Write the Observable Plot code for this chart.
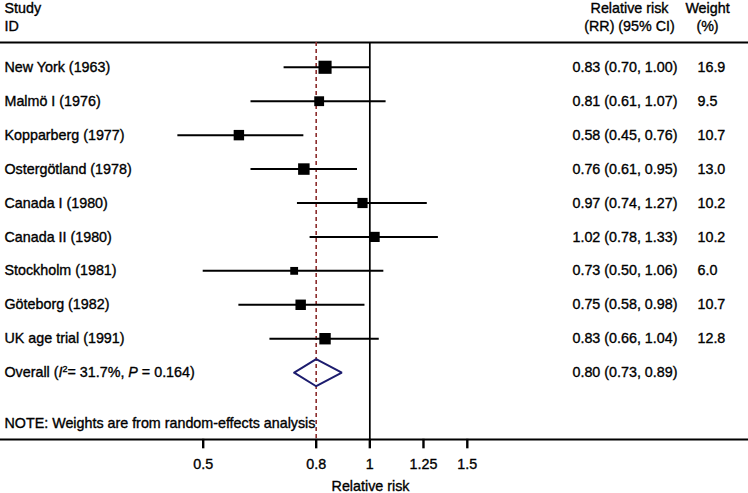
<!DOCTYPE html>
<html>
<head>
<meta charset="utf-8">
<script src="https://cdn.jsdelivr.net/npm/d3@7"></script>
<script src="https://cdn.jsdelivr.net/npm/@observablehq/plot@0.6"></script>
<style>
  html, body { margin: 0; padding: 0; background: #fff; }
  #chart svg { display: block; overflow: visible; }
  #chart svg text { stroke: #000; stroke-width: 0.35px; paint-order: fill; }
</style>
</head>
<body>
<div id="chart"></div>
<script>
// ---- data ----
const studies = ["New York (1963)", "Malmö I (1976)", "Kopparberg (1977)", "Ostergötland (1978)",
  "Canada I (1980)", "Canada II (1980)", "Stockholm (1981)", "Göteborg (1982)", "UK age trial (1991)"];
const rr     = [0.83, 0.81, 0.58, 0.76, 0.97, 1.02, 0.73, 0.75, 0.83];
const lower  = [0.70, 0.61, 0.45, 0.61, 0.74, 0.78, 0.50, 0.58, 0.66];
const upper  = [1.00, 1.07, 0.76, 0.95, 1.27, 1.33, 1.06, 0.98, 1.04];
const weight = [16.9, 9.5, 10.7, 13.0, 10.2, 10.2, 6.0, 10.7, 12.8];
const overallLabel = "Overall (I²= 31.7%, P = 0.164)";
const overallRR = 0.80, overallLower = 0.73, overallUpper = 0.89;
const noteText = "NOTE: Weights are from random-effects analysis";
const xTicks = [0.5, 0.8, 1, 1.25, 1.5];
const xTickLabels = ["0.5", "0.8", "1", "1.25", "1.5"];
const headerLeft = ["Study", "ID"];
const headerRR = ["Relative risk", "(RR) (95% CI)"];
const headerW = ["Weight", "(%)"];

// ---- derived table ----
const rows = studies.map((s, i) => ({
  study: s, row: i, rr: rr[i], lo: lower[i], hi: upper[i], w: weight[i],
  ci: `${rr[i].toFixed(2)} (${lower[i].toFixed(2)}, ${upper[i].toFixed(2)})`,
  wt: weight[i].toFixed(1)
}));
const overallRow = studies.length;
const overall = [{label: overallLabel, row: overallRow,
  ci: `${overallRR.toFixed(2)} (${overallLower.toFixed(2)}, ${overallUpper.toFixed(2)})`}];
const dh = 0.4;
const diamond = [
  {x: overallLower, y: overallRow}, {x: overallRR, y: overallRow - dh},
  {x: overallUpper, y: overallRow}, {x: overallRR, y: overallRow + dh},
  {x: overallLower, y: overallRow}
];
const yDomain = [-0.73, 10.97];
const headRows = [-1.72, -1.21];
const noteRow = overallRow + 1.5;
const tickLen = 0.26; // in row units
const tickMarks = xTicks.map(t => ({x: t, y1: yDomain[1] - 0.02, y2: yDomain[1] + tickLen}));
const tickText = new Map(xTicks.map((t, i) => [t, xTickLabels[i]]));

const font = "'Liberation Sans', Arial, Helvetica, sans-serif";
const fs = 14.3;
const colCI = 572, colWC = 707, colRRC = 629, colW = 697;

const chart = Plot.plot({
  width: 748, height: 493,
  marginLeft: 0, marginRight: 0, marginTop: 42, marginBottom: 54,
  style: {fontFamily: font, fontSize: fs + "px", color: "#000", background: "#fff", overflow: "visible"},
  x: {type: "log", domain: [0.5, 1.5], range: [202.7, 466.8]},
  y: {domain: yDomain, range: [42, 439], axis: null},
  r: {type: "sqrt", domain: [0, 16.9], range: [0, 7.4]},
  marks: [
    Plot.ruleY(yDomain, {stroke: "#000", strokeWidth: 2}),
    Plot.ruleX([overallRR], {stroke: "#8b2c2c", strokeWidth: 1.6, strokeDasharray: "4,3"}),
    Plot.ruleX([1], {stroke: "#000", strokeWidth: 1.7}),
    Plot.ruleY(rows, {y: "row", x1: "lo", x2: "hi", stroke: "#000", strokeWidth: 2}),
    Plot.dot(rows, {x: "rr", y: "row", r: "w", symbol: "square", fill: "#000", stroke: "none"}),
    Plot.line(diamond, {x: "x", y: "y", stroke: "#1c1c6e", strokeWidth: 2, strokeLinejoin: "miter"}),
    Plot.axisX({ticks: xTicks, tickFormat: d => tickText.get(d) ?? String(d), tickSize: 0, tickPadding: 19,
      fontSize: fs, label: null}),
    Plot.link(tickMarks, {x1: "x", x2: "x", y1: "y1", y2: "y2", stroke: "#000", strokeWidth: 2.4}),
    Plot.text(["Relative risk"], {frameAnchor: "bottom", dx: -4, dy: 51, fontSize: fs}),
    // header
    Plot.text(headerLeft, {y: (d, i) => headRows[i], text: d => d, frameAnchor: "left", dx: 4, textAnchor: "start"}),
    Plot.text(headerRR, {y: (d, i) => headRows[i], text: d => d, frameAnchor: "left", dx: colRRC, textAnchor: "middle"}),
    Plot.text(headerW, {y: (d, i) => headRows[i], text: d => d, frameAnchor: "left", dx: colWC, textAnchor: "middle"}),
    // study labels & values
    Plot.text(rows, {y: "row", text: "study", frameAnchor: "left", dx: 4, textAnchor: "start"}),
    Plot.text(rows, {y: "row", text: "ci", frameAnchor: "left", dx: colCI, textAnchor: "start"}),
    Plot.text(rows, {y: "row", text: "wt", frameAnchor: "left", dx: colW, textAnchor: "start"}),
    Plot.text(overall, {y: "row", text: "label", frameAnchor: "left", dx: 4, textAnchor: "start"}),
    Plot.text(overall, {y: "row", text: "ci", frameAnchor: "left", dx: colCI, textAnchor: "start"}),
    Plot.text([noteText], {y: noteRow, text: d => d, frameAnchor: "left", dx: 4, textAnchor: "start"})
  ]
});

// italic I and P, superscript 2 in overall label
chart.querySelectorAll("text").forEach(t => {
  if (t.textContent === overallLabel) {
    t.textContent = "";
    const parts = [["Overall (", null], ["I", "italic"], ["2", "sup"], ["= 31.7%, ", null], ["P", "italic"], [" = 0.164)", null]];
    for (const [s, kind] of parts) {
      const ts = document.createElementNS("http://www.w3.org/2000/svg", "tspan");
      ts.textContent = s;
      if (kind === "italic") ts.setAttribute("font-style", "italic");
      if (kind === "sup") { ts.setAttribute("font-size", "9"); ts.setAttribute("dy", "-5"); }
      if (kind === null && s.startsWith("=")) ts.setAttribute("dy", "5");
      t.appendChild(ts);
    }
  }
});

document.getElementById("chart").appendChild(chart);
</script>
</body>
</html>
